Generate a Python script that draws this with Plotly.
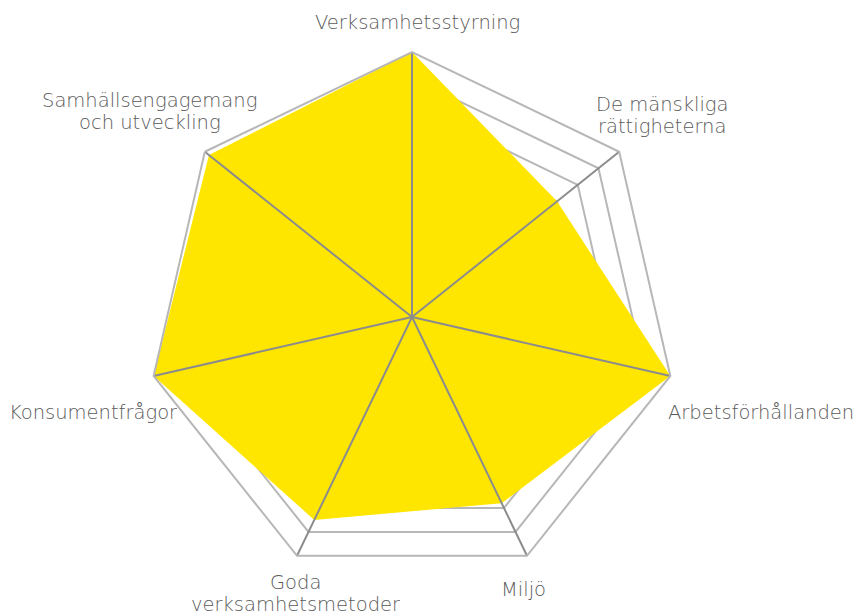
import math
import plotly.graph_objects as go

# Assessment scores per sustainability area (scale 0-10)
categories = [
    "Verksamhetsstyrning",
    "De mänskliga rättigheterna",
    "Arbetsförhållanden",
    "Miljö",
    "Goda verksamhetsmetoder",
    "Konsumentfrågor",
    "Samhällsengagemang och utveckling",
]
scores = [10, 7, 10, 7.8, 8.5, 10, 9.8]
tick_labels = [
    "Verksamhetsstyrning",
    "De mänskliga<br>rättigheterna",
    "Arbetsförhållanden",
    "Miljö",
    "Goda<br>verksamhetsmetoder",
    "Konsumentfrågor",
    "Samhällsengagemang<br>och utveckling",
]
r_max = 10

W, H = 854, 616
CX, CY, RAD = 412, 317, 265  # polar centre and radius in pixels

YELLOW = "#FFE600"
RING = "#b7b7b7"
SPOKE = "#8c8c8c"
TEXT = "#5a5a5a"
FONT = "DejaVu Sans"
FONT_SIZE = 19.5
LINE_GAP = 22

fig = go.Figure()

# filled score polygon
fig.add_trace(go.Scatterpolar(
    r=scores + scores[:1],
    theta=categories + categories[:1],
    mode="lines",
    fill="toself",
    fillcolor=YELLOW,
    line=dict(color=YELLOW, width=0),
    hoverinfo="skip",
    showlegend=False,
))

# spokes drawn on top of the fill
spoke_r, spoke_t = [], []
for c in categories:
    spoke_r += [0, r_max, None]
    spoke_t += [c, c, c]
fig.add_trace(go.Scatterpolar(
    r=spoke_r,
    theta=spoke_t,
    mode="lines",
    line=dict(color=SPOKE, width=2),
    connectgaps=False,
    hoverinfo="skip",
    showlegend=False,
))

fig.update_layout(
    width=W,
    height=H,
    margin=dict(l=0, r=0, t=0, b=0),
    paper_bgcolor="white",
    plot_bgcolor="white",
    showlegend=False,
    polar=dict(
        domain=dict(
            x=[(CX - RAD) / W, (CX + RAD) / W],
            y=[1 - (CY + RAD) / H, 1 - (CY - RAD) / H],
        ),
        bgcolor="white",
        gridshape="linear",
        hole=0,
        radialaxis=dict(
            range=[0, r_max],
            dtick=1,
            showticklabels=False,
            ticks="",
            showline=False,
            showgrid=True,
            gridcolor=RING,
            gridwidth=2,
        ),
        angularaxis=dict(
            type="category",
            categoryarray=categories,
            rotation=90,
            direction="clockwise",
            showticklabels=False,
            ticks="",
            showgrid=False,
            showline=True,
            linecolor=RING,
            linewidth=2,
        ),
    ),
)

# category labels placed around the outer ring vertices
label_offsets = [
    (5, -30, "center"),
    (43, -37, "center"),
    (-3, 36, "left"),
    (-3, 33, "center"),
    (-2, 37, "center"),
    (24, 36, "right"),
    (-55, -41, "center"),
]
n = len(categories)
for i, (lab, (dx, dy, anchor)) in enumerate(zip(tick_labels, label_offsets)):
    ang = math.radians(90 - i * 360 / n)
    vx = CX + RAD * math.cos(ang)
    vy = CY - RAD * math.sin(ang)
    lines = lab.split("<br>")
    m = len(lines)
    for k, line in enumerate(lines):
        ly = vy + dy + (k - (m - 1) / 2) * LINE_GAP
        fig.add_annotation(
            x=(vx + dx) / W,
            y=1 - ly / H,
            xref="paper",
            yref="paper",
            text=line,
            showarrow=False,
            xanchor=anchor,
            yanchor="middle",
            align="center",
            height=LINE_GAP,
            borderpad=0,
            font=dict(family=FONT, size=FONT_SIZE, color=TEXT, weight=200),
        )

fig.write_html("out.html")
